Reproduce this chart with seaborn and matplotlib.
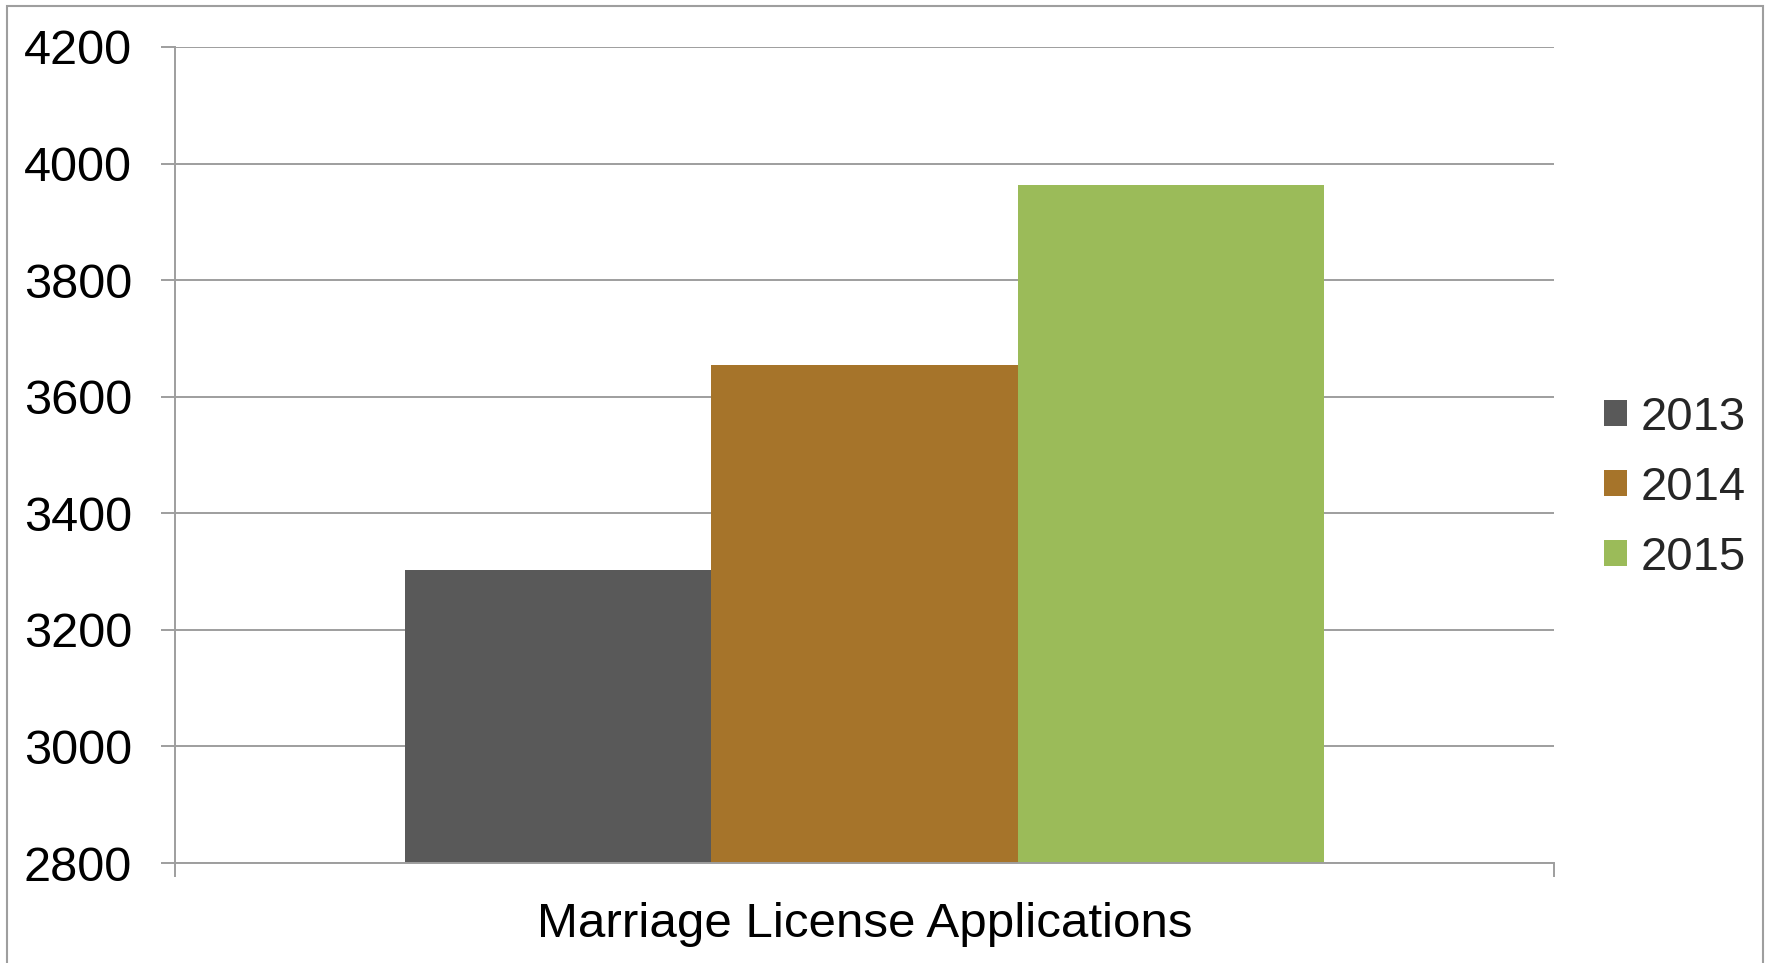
import numpy as np
import pandas as pd
import seaborn as sns
import matplotlib.pyplot as plt
from matplotlib.patches import Rectangle

category = ["Marriage License Applications"]
years = ["2013", "2014", "2015"]
values = [3302, 3655, 3964]
colors = ["#595959", "#A6742A", "#9BBB59"]

df = pd.DataFrame({"category": category * len(years), "year": years, "value": values})

sns.set_style("white")
plt.rcParams['font.family'] = ['Liberation Sans', 'DejaVu Sans']
grid_col = "#9e9e9e"

fig = plt.figure(figsize=(17.73, 9.63), dpi=100)
ax = fig.add_axes([175/1773, 1-863/963, (1554-175)/1773, (863-47)/963])

sns.barplot(data=df, x="category", y="value", hue="year", palette=colors,
            width=0.667, gap=0, linewidth=0, saturation=1, ax=ax, legend=True)

ax.set_ylim(2800, 4200)
ax.set_xlim(-0.5, 0.5)
ax.set_yticks(np.arange(2800, 4201, 200))
ax.yaxis.grid(True, color=grid_col, linewidth=1.4)
ax.set_axisbelow(True)

for s in ["top", "right"]:
    ax.spines[s].set_visible(False)
for s in ["left", "bottom"]:
    ax.spines[s].set_color(grid_col)
    ax.spines[s].set_linewidth(1.4)

ax.tick_params(axis="y", which="major", left=True, length=10, width=1.4, color=grid_col,
               labelsize=35, pad=21, labelcolor="black")
ax.set_xticks([0])
ax.set_xticklabels(category)
ax.set_xticks([-0.5, 0.5], minor=True)
ax.tick_params(axis="x", which="major", length=0, labelsize=35.5, pad=28, labelcolor="black")
ax.tick_params(axis="x", which="minor", bottom=True, length=10, width=1.4, color=grid_col)
ax.set_xlabel("")
ax.set_ylabel("")

ax.legend(loc="center left", bbox_to_anchor=(1604/1773, 1-488/963), bbox_transform=fig.transFigure,
          frameon=False, fontsize=34, handlelength=0.48, handleheight=0.48, handletextpad=0.3,
          labelspacing=0.55, borderpad=0, borderaxespad=0)

fig.patches.append(Rectangle((7/1773, -0.02), (1763-7)/1773, 1-6/963+0.02, transform=fig.transFigure,
                             fill=False, edgecolor=grid_col, linewidth=1.5))

fig.savefig("out.png", dpi=100)
